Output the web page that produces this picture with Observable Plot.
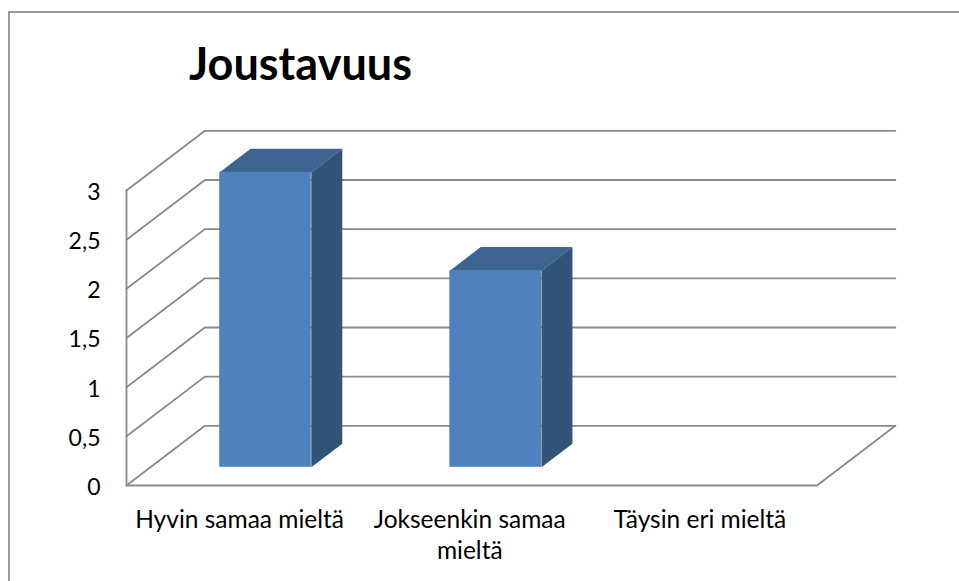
<!DOCTYPE html>
<html>
<head>
<meta charset="utf-8">
<script src="https://cdn.jsdelivr.net/npm/d3@7"></script>
<script src="https://cdn.jsdelivr.net/npm/@observablehq/plot@0.6"></script>
<style>
  html, body { margin: 0; padding: 0; background: #fff; overflow: hidden; }
  #page { position: relative; width: 959px; height: 581px; font-family: Lato, sans-serif; }
  #frame { position: absolute; left: 8px; top: 11px; right: 0; bottom: 0; border-left: 2px solid #9a9a9a; border-top: 2px solid #9a9a9a; }
  #title { position: absolute; left: 189px; top: 36px; font-size: 45px; font-weight: 700; line-height: 54px; color: #000; }
  svg { position: absolute; left: 0; top: 0; }
</style>
</head>
<body>
<div id="page">
  <div id="frame"></div>
  <div id="title">Joustavuus</div>
  <div id="chart"></div>
</div>
<script>
const categories = ["Hyvin samaa mieltä", "Jokseenkin samaa\nmieltä", "Täysin eri mieltä"];
const values = [3, 2, null];
const yTicks = [0, 0.5, 1, 1.5, 2, 2.5, 3];

// Oblique 3D projection, in data units of the two scales
const depthX = 0.3406, depthY = 0.607;
const barWidth = 0.398, barFront = 0.305, barBack = 0.70;
const pt = (c, v, d, id) => ({x: c + d * depthX, y: v + d * depthY, id});

const grid = yTicks.flatMap((t) => [
  pt(0, t, 0, "g" + t), pt(0, t, 1, "g" + t), pt(3, t, 1, "g" + t)
]);
const floorEdge = [pt(3, 0, 1, "f"), pt(3, 0, 0, "f"), pt(0, 0, 0, "f"), pt(0, 3, 0, "f")];

const bars = values.flatMap((v, i) => v == null ? [] : [{v, a: i + 0.5 - barWidth / 2, b: i + 0.5 + barWidth / 2, i}]);
const topFaces = bars.flatMap(({v, a, b, i}) => [
  pt(a, v, barFront, i), pt(b, v, barFront, i), pt(b, v, barBack, i), pt(a, v, barBack, i)
]);
const sideFaces = bars.flatMap(({v, b, i}) => [
  pt(b, 0, barFront, i), pt(b, v, barFront, i), pt(b, v, barBack, i), pt(b, 0, barBack, i)
]);
const frontFaces = bars.map(({v, a, b}) => ({
  x1: a + barFront * depthX, x2: b + barFront * depthX,
  y1: barFront * depthY, y2: v + barFront * depthY
}));

const gridColor = "#8a8a8a";
const chart = Plot.plot({
  width: 959,
  height: 581,
  marginLeft: 126,
  marginRight: 142.5,
  marginTop: 190,
  marginBottom: 96,
  style: {background: "transparent", fontFamily: "Lato, sans-serif", color: "#000"},
  x: {domain: [0, 3]},
  y: {domain: [0, 3]},
  marks: [
    Plot.line(grid, {x: "x", y: "y", z: "id", stroke: gridColor, strokeWidth: 1.8, curve: "linear"}),
    Plot.line(floorEdge, {x: "x", y: "y", z: "id", stroke: gridColor, strokeWidth: 1.8, curve: "linear"}),
    Plot.line(topFaces, {x: "x", y: "y", z: "id", fill: "#3d6391", stroke: "none", curve: "linear"}),
    Plot.line(sideFaces, {x: "x", y: "y", z: "id", fill: "#325479", stroke: "none", curve: "linear"}),
    Plot.rect(frontFaces, {x1: "x1", x2: "x2", y1: "y1", y2: "y2", fill: "#4f81bd"}),
    Plot.axisY({
      ticks: yTicks, tickSize: 0, tickPadding: 26, label: null, fontSize: 23, dy: 2,
      tickFormat: (d) => String(d).replace(".", ",")
    }),
    Plot.axisX({
      ticks: categories.map((_, i) => i + 0.5), tickSize: 0, tickPadding: 20, label: null,
      fontSize: 24.5, lineHeight: 1.28, dx: -2,
      tickFormat: (d) => categories[d - 0.5]
    })
  ]
});
document.getElementById("chart").appendChild(chart);
</script>
</body>
</html>
